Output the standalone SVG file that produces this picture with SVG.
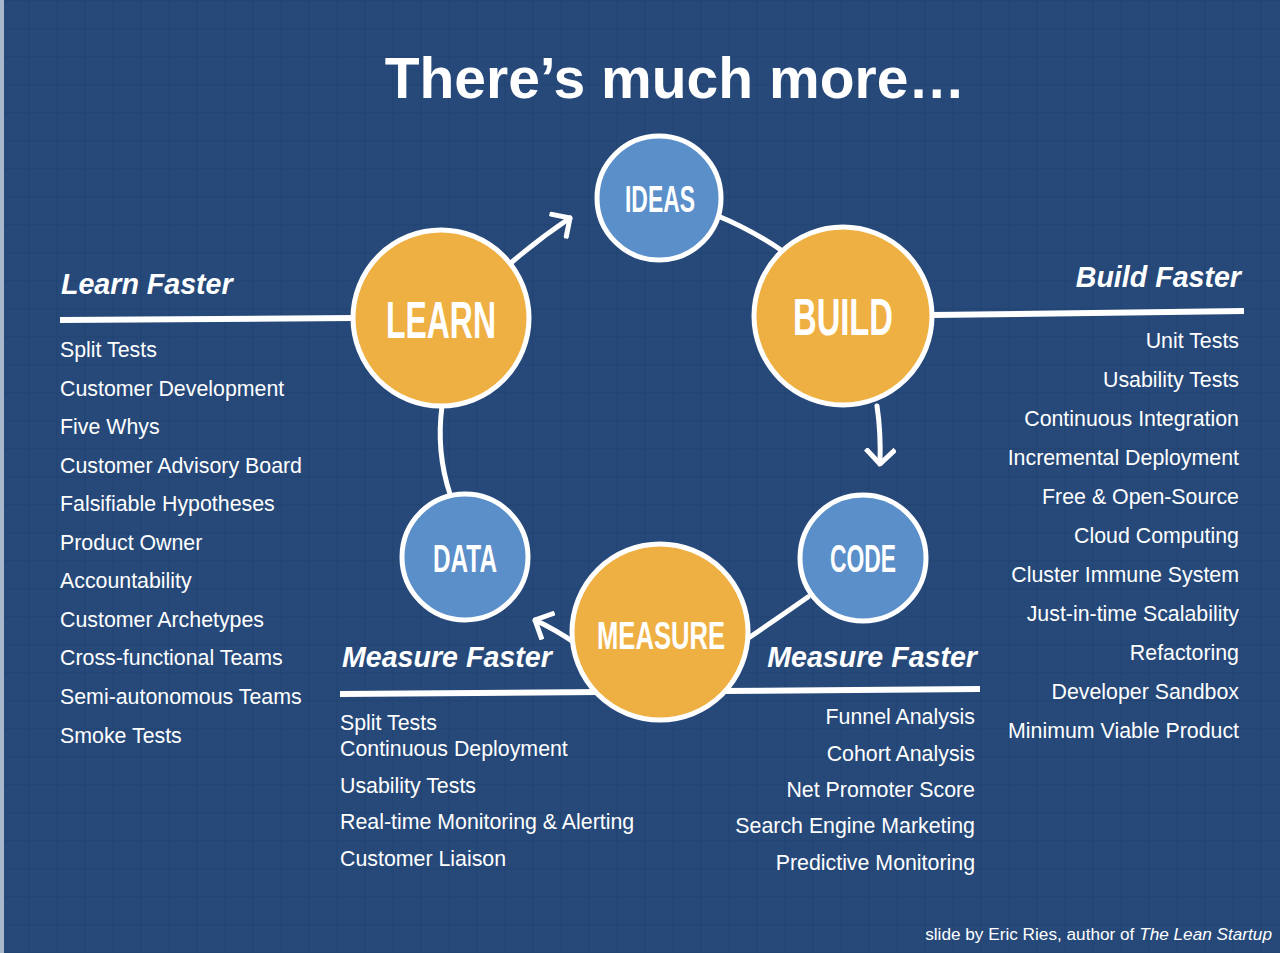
<svg xmlns="http://www.w3.org/2000/svg" width="1280" height="953" viewBox="0 0 1280 953">
<defs>
<pattern id="grid" width="28" height="28" patternUnits="userSpaceOnUse">
<rect width="28" height="28" fill="#26497a"/>
<path d="M0 0.5H28M0.5 0V28" stroke="#1e3f6c" stroke-width="2" opacity="0.45"/>
</pattern>
<marker id="chev" viewBox="-16 -16 18 32" markerWidth="18" markerHeight="32" refX="0" refY="0" orient="auto" markerUnits="userSpaceOnUse">
<path d="M-13 -13 L0 0 L-13 13" fill="none" stroke="#fff" stroke-width="5" stroke-linecap="square" stroke-linejoin="miter"/>
</marker>
</defs>
<style>
.bg{fill:url(#grid)}
.conn{fill:none;stroke:#fff;stroke-width:5;stroke-linecap:round}
.rule{stroke:#fff;stroke-width:6}
.big{fill:#efb043;stroke:#fff;stroke-width:5}
.small{fill:#5a8fca;stroke:#fff;stroke-width:5}
.lbl{font-family:"Liberation Sans",Arial,sans-serif;font-weight:bold;fill:#fff;text-anchor:middle}
.head{font-family:"Liberation Sans",Arial,sans-serif;font-weight:bold;font-style:italic;font-size:28.6px;fill:#fff}
.item{font-family:"Liberation Sans",Arial,sans-serif;font-size:21.35px;fill:#fff}
.title{font-family:"Liberation Sans",Arial,sans-serif;font-weight:bold;font-size:57px;fill:#fff;text-anchor:middle}
.foot{font-family:"Liberation Sans",Arial,sans-serif;font-size:17.2px;fill:#fff;text-anchor:end}
</style>
<rect class="bg" x="0" y="0" width="1280" height="953"/>
<rect x="0" y="0" width="4" height="953" fill="#a9b8cb"/>

<text class="title" x="675" y="98">There’s much more…</text>

<g id="rules">
<line class="rule" x1="60" y1="320" x2="355" y2="318"/>
<line class="rule" x1="932" y1="315" x2="1244" y2="311"/>
<line class="rule" x1="340" y1="694" x2="600" y2="692"/>
<line class="rule" x1="720" y1="691" x2="980" y2="689"/>
</g>

<g id="connectors">
<path class="conn" d="M718 216 Q752 230 784 252"/>
<path class="conn" d="M808 597 Q778 618 750 637"/>
<path class="conn" d="M450 494 Q436 452 442 406"/>
<path class="conn" d="M512 262 Q540 238 570 218" marker-end="url(#chev)"/>
<path class="conn" d="M877 406 Q881 432 880 464" marker-end="url(#chev)"/>
<path class="conn" d="M575 643 Q556 630 535 620" marker-end="url(#chev)"/>
</g>

<g id="ideas"><circle class="small" cx="659" cy="198" r="62"/><text class="lbl" x="660" y="212" font-size="36" textLength="70" lengthAdjust="spacingAndGlyphs">IDEAS</text></g>
<g id="learn"><circle class="big" cx="441" cy="318" r="88"/><text class="lbl" x="441" y="338" font-size="52" textLength="110" lengthAdjust="spacingAndGlyphs">LEARN</text></g>
<g id="build"><circle class="big" cx="843" cy="316" r="89"/><text class="lbl" x="843" y="335" font-size="52" textLength="100" lengthAdjust="spacingAndGlyphs">BUILD</text></g>
<g id="data"><circle class="small" cx="465" cy="557" r="63"/><text class="lbl" x="465" y="572" font-size="38" textLength="64" lengthAdjust="spacingAndGlyphs">DATA</text></g>
<g id="code"><circle class="small" cx="863" cy="558" r="63"/><text class="lbl" x="863" y="572" font-size="38" textLength="66" lengthAdjust="spacingAndGlyphs">CODE</text></g>
<g id="measure"><circle class="big" cx="660" cy="632" r="88"/><text class="lbl" x="661" y="649" font-size="39" textLength="128" lengthAdjust="spacingAndGlyphs">MEASURE</text></g>

<g id="learn-faster">
<text class="head" x="61" y="294">Learn Faster</text>
<text class="item" x="60" y="357">Split Tests</text>
<text class="item" x="60" y="396">Customer Development</text>
<text class="item" x="60" y="434">Five Whys</text>
<text class="item" x="60" y="473">Customer Advisory Board</text>
<text class="item" x="60" y="511">Falsifiable Hypotheses</text>
<text class="item" x="60" y="550">Product Owner</text>
<text class="item" x="60" y="588">Accountability</text>
<text class="item" x="60" y="627">Customer Archetypes</text>
<text class="item" x="60" y="665">Cross-functional Teams</text>
<text class="item" x="60" y="704">Semi-autonomous Teams</text>
<text class="item" x="60" y="743">Smoke Tests</text>
</g>

<g id="build-faster">
<text class="head" x="1241" y="287" text-anchor="end">Build Faster</text>
<text class="item" x="1239" y="348" text-anchor="end">Unit Tests</text>
<text class="item" x="1239" y="387" text-anchor="end">Usability Tests</text>
<text class="item" x="1239" y="426" text-anchor="end">Continuous Integration</text>
<text class="item" x="1239" y="465" text-anchor="end">Incremental Deployment</text>
<text class="item" x="1239" y="504" text-anchor="end">Free &amp; Open-Source</text>
<text class="item" x="1239" y="543" text-anchor="end">Cloud Computing</text>
<text class="item" x="1239" y="582" text-anchor="end">Cluster Immune System</text>
<text class="item" x="1239" y="621" text-anchor="end">Just-in-time Scalability</text>
<text class="item" x="1239" y="660" text-anchor="end">Refactoring</text>
<text class="item" x="1239" y="699" text-anchor="end">Developer Sandbox</text>
<text class="item" x="1239" y="738" text-anchor="end">Minimum Viable Product</text>
</g>

<g id="measure-faster-left">
<text class="head" x="342" y="667">Measure Faster</text>
<text class="item" x="340" y="730">Split Tests</text>
<text class="item" x="340" y="756">Continuous Deployment</text>
<text class="item" x="340" y="793">Usability Tests</text>
<text class="item" x="340" y="829">Real-time Monitoring &amp; Alerting</text>
<text class="item" x="340" y="866">Customer Liaison</text>
</g>

<g id="measure-faster-right">
<text class="head" x="977" y="667" text-anchor="end">Measure Faster</text>
<text class="item" x="975" y="724" text-anchor="end">Funnel Analysis</text>
<text class="item" x="975" y="761" text-anchor="end">Cohort Analysis</text>
<text class="item" x="975" y="797" text-anchor="end">Net Promoter Score</text>
<text class="item" x="975" y="833" text-anchor="end">Search Engine Marketing</text>
<text class="item" x="975" y="870" text-anchor="end">Predictive Monitoring</text>
</g>

<text class="foot" x="1272" y="940">slide by Eric Ries, author of <tspan font-style="italic">The Lean Startup</tspan></text>
</svg>
